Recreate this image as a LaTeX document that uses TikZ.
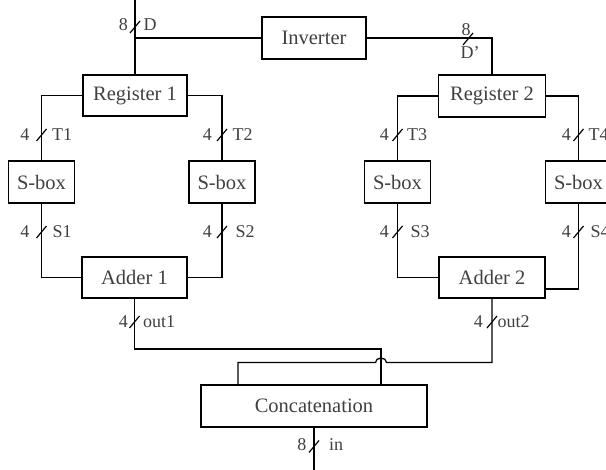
\documentclass[tikz,border=0pt]{standalone}
\usepackage{fontspec}
\setmainfont{Liberation Serif}
\begin{document}
\begin{tikzpicture}[x=1pt,y=-1pt,line width=1.3pt,
  blk/.style={draw,rectangle,inner sep=0pt,font=\fontsize{20.5}{24}\selectfont,text=black!75},
  lbl/.style={font=\fontsize{18}{21}\selectfont,text=black!75,inner sep=0pt},
  bus/.pic={\draw[line width=1.2pt] (-5pt,-6pt) -- (5pt,6pt);}]
\useasboundingbox (0,0) rectangle (606,470);

% blocks
\node[blk,minimum width=104pt,minimum height=42pt] (inv)  at (314,38)    {Inverter};
\node[blk,minimum width=104pt,minimum height=41pt] (reg1) at (135,95.5)  {Register 1};
\node[blk,minimum width=107pt,minimum height=42pt] (reg2) at (492,96)    {Register 2};
\node[blk,minimum width=66pt,minimum height=42pt]  (sb1)  at (41.5,182)  {S-box};
\node[blk,minimum width=66pt,minimum height=42pt]  (sb2)  at (222,182)   {S-box};
\node[blk,minimum width=66pt,minimum height=42pt]  (sb3)  at (397.5,182) {S-box};
\node[blk,minimum width=66pt,minimum height=42pt]  (sb4)  at (578.5,182) {S-box};
\node[blk,minimum width=105pt,minimum height=41pt] (add1) at (134.5,277.5) {Adder 1};
\node[blk,minimum width=106pt,minimum height=41pt] (add2) at (492,277.5) {Adder 2};
\node[blk,minimum width=226pt,minimum height=42pt] (cat)  at (314,406)   {Concatenation};

% input D and the inverter branch
\coordinate (din) at (135,0);
\draw (din) -- (reg1.north);
\draw (reg1.north |- inv.west) -- (inv.west);
\draw (inv.east) -| (reg2.north);
\pic at (135,27) {bus};
\node[lbl,anchor=east] (wD) at (128.5,25) {8};
\node[lbl,anchor=west] (nD) at (143,25) {D};
\pic at (468,39) {bus};
\node[lbl] (wDp) at (466,30) {8};
\node[lbl] (nDp) at (470,53) {D'};

% register 1 path
\draw (reg1.west) -| (sb1.north);
\draw (reg1.east) -| (sb2.north);
\draw (sb1.south) |- (add1.west);
\draw (sb2.south) |- (add1.east);
\pic at (41.5,135) {bus};
\node[lbl,anchor=east] (wT1) at (30,135) {4};
\node[lbl,anchor=west] (nT1) at (51.5,135) {T1};
\pic at (222,135) {bus};
\node[lbl,anchor=east] (wT2) at (212.5,135) {4};
\node[lbl,anchor=west] (nT2) at (232,135) {T2};
\pic at (41.5,232) {bus};
\node[lbl,anchor=east] (wS1) at (30,232) {4};
\node[lbl,anchor=west] (nS1) at (52,232) {S1};
\pic at (222,232) {bus};
\node[lbl,anchor=east] (wS2) at (212.5,232) {4};
\node[lbl,anchor=west] (nS2) at (235,232) {S2};

% register 2 path
\draw (reg2.west) -| (sb3.north);
\draw (reg2.east) -| (sb4.north);
\draw (sb3.south) |- (add2.west);
\draw (sb4.south) |- ([yshift=-11.5pt]add2.east);
\pic at (397.5,135) {bus};
\node[lbl,anchor=east] (wT3) at (389.5,135) {4};
\node[lbl,anchor=west] (nT3) at (406.5,135) {T3};
\pic at (578.5,135) {bus};
\node[lbl,anchor=east] (wT4) at (571.5,135) {4};
\node[lbl,anchor=west] (nT4) at (588,135) {T4};
\pic at (397.5,232) {bus};
\node[lbl,anchor=east] (wS3) at (389.5,232) {4};
\node[lbl,anchor=west] (nS3) at (410,232) {S3};
\pic at (578.5,232) {bus};
\node[lbl,anchor=east] (wS4) at (571.5,232) {4};
\node[lbl,anchor=west] (nS4) at (590,232) {S4};

% adder outputs into the concatenation
\coordinate (y1) at (0,349);
\coordinate (y2) at (0,362.5);
\coordinate (c1) at (381,406);
\coordinate (c2) at (238,406);
\draw (add1.south) -- (add1.south |- y1) -| (c1 |- cat.north);
\draw (add2.south) -- (add2.south |- y2) -- (386.5,362.5)
  arc[start angle=0,end angle=180,x radius=5.5pt,y radius=4.5pt]
  -| (c2 |- cat.north);
\pic at (134.5,322) {bus};
\node[lbl,anchor=east] (wo1) at (128.5,322) {4};
\node[lbl,anchor=west] (no1) at (142.5,322) {out1};
\pic at (492,322) {bus};
\node[lbl,anchor=east] (wo2) at (483.5,322) {4};
\node[lbl,anchor=west] (no2) at (497,322) {out2};

% final output
\coordinate (inb) at (314,470);
\draw (cat.south) -- (inb);
\pic at (314,446.5) {bus};
\node[lbl,anchor=east] (win) at (307,445) {8};
\node[lbl,anchor=west] (nin) at (328.5,445) {in};
\end{tikzpicture}
\end{document}
